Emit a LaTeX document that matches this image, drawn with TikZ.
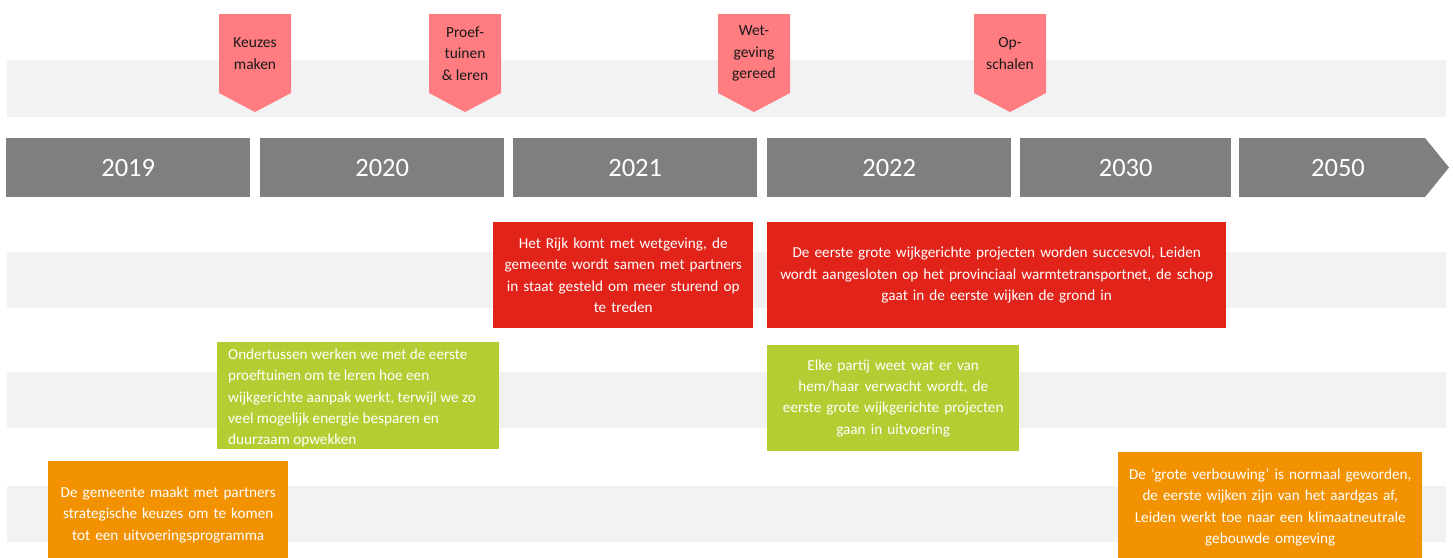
\documentclass[tikz,border=0pt]{standalone}
\usepackage{fontspec}
\setmainfont{Carlito}
\definecolor{bandgrey}{HTML}{F2F2F2}
\definecolor{yeargrey}{HTML}{7F7F7F}
\definecolor{flagpink}{HTML}{FF7C80}
\definecolor{boxred}{HTML}{E2231A}
\definecolor{boxgreen}{HTML}{B5CC32}
\definecolor{boxorange}{HTML}{F39200}
\definecolor{flagtext}{HTML}{1A1A1A}
\tikzset{
  band/.style={fill=bandgrey, draw=none},
  yearbox/.style={fill=yeargrey, draw=none, text=white, font=\fontsize{26.5}{30}\selectfont,
    minimum height=59pt, inner sep=0pt, anchor=north west},
  yeartext/.style={text=white, font=\fontsize{26.5}{30}\selectfont, inner sep=0pt},
  flagshape/.style={fill=flagpink, draw=none},
  flagtxt/.style={text=flagtext, font=\fontsize{15.5}{21.5}\selectfont, align=center, inner sep=0pt},
  infobox/.style={draw=none, text=white, font=\fontsize{15.2}{21.4}\selectfont,
    inner sep=0pt, anchor=north west},
}
\begin{document}
\begin{tikzpicture}[x=1pt,y=-1pt]
\useasboundingbox (0,0) rectangle (1453,557);
\clip (0,0) rectangle (1453,557);
% light bands
\fill[band] (7,60) rectangle (1446,117);
\fill[band] (7,252) rectangle (1446,308);
\fill[band] (7,372) rectangle (1446,428);
\fill[band] (7,486) rectangle (1446,542);
% year bar
\node[yearbox, minimum width=244pt] (y2019) at (6,138) {2019};
\node[yearbox, minimum width=244pt] (y2020) at (260,138) {2020};
\node[yearbox, minimum width=244pt] (y2021) at (513,138) {2021};
\node[yearbox, minimum width=244pt] (y2022) at (767,138) {2022};
\node[yearbox, minimum width=211pt] (y2030) at (1020,138) {2030};
\fill[yeargrey] (1239,138) -- (1425,138) -- (1449,167.5) -- (1425,197) -- (1239,197) -- cycle;
\node[yeartext] (y2050) at (1338,168) {2050};
% flags
\fill[flagshape] (219,14) -- (291,14) -- (291,93) -- (255,112) -- (219,93) -- cycle;
\node[flagtxt] (f1) at (255,53.5) {Keuzes\\maken};
\fill[flagshape] (429,14) -- (501,14) -- (501,93) -- (465,112) -- (429,93) -- cycle;
\node[flagtxt] (f2) at (465,53.5) {Proef-\\tuinen\\\&~leren};
\fill[flagshape] (718,14) -- (790,14) -- (790,93) -- (754,112) -- (718,93) -- cycle;
\node[flagtxt] (f3) at (754,53.5) {Wet-\\geving\\gereed};
\fill[flagshape] (974,14) -- (1046,14) -- (1046,93) -- (1010,112) -- (974,93) -- cycle;
\node[flagtxt] (f4) at (1010,53.5) {Op-\\schalen};
% red boxes
\node[infobox, fill=boxred, minimum width=260pt, minimum height=106pt, text width=256pt, align=center] (r1) at (493,222)
  {Het Rijk komt met wetgeving, de\\gemeente wordt samen met partners\\in staat gesteld om meer sturend op\\te treden};
\node[infobox, fill=boxred, minimum width=459pt, minimum height=106pt, text width=455pt, align=center] (r2) at (767,222)
  {De eerste grote wijkgerichte projecten worden succesvol, Leiden\\wordt aangesloten op het provinciaal warmtetransportnet, de schop\\gaat in de eerste wijken de grond in};
% green boxes
\fill[boxgreen] (217,342) rectangle (499,449);
\node[text=white, font=\fontsize{15.2}{21.2}\selectfont, align=left, inner sep=0pt, anchor=west] (g1) at (228,398)
  {Ondertussen werken we met de eerste\\proeftuinen om te leren hoe een\\wijkgerichte aanpak werkt, terwijl we zo\\veel mogelijk energie besparen en\\duurzaam opwekken};
\node[infobox, fill=boxgreen, minimum width=252pt, minimum height=106pt, text width=248pt, align=center] (g2) at (767,345)
  {Elke partij weet wat er van\\hem/haar verwacht wordt, de\\eerste grote wijkgerichte projecten\\gaan in uitvoering};
% orange boxes
\node[infobox, fill=boxorange, minimum width=240pt, minimum height=107pt, text width=236pt, align=center] (o1) at (48,461)
  {De gemeente maakt met partners\\strategische keuzes om te komen\\tot een uitvoeringsprogramma};
\node[infobox, fill=boxorange, minimum width=304pt, minimum height=110pt, text width=300pt, align=center] (o2) at (1118,452)
  {De ‘grote verbouwing’ is normaal geworden,\\de eerste wijken zijn van het aardgas af,\\Leiden werkt toe naar een klimaatneutrale\\gebouwde omgeving};
\end{tikzpicture}
\end{document}
